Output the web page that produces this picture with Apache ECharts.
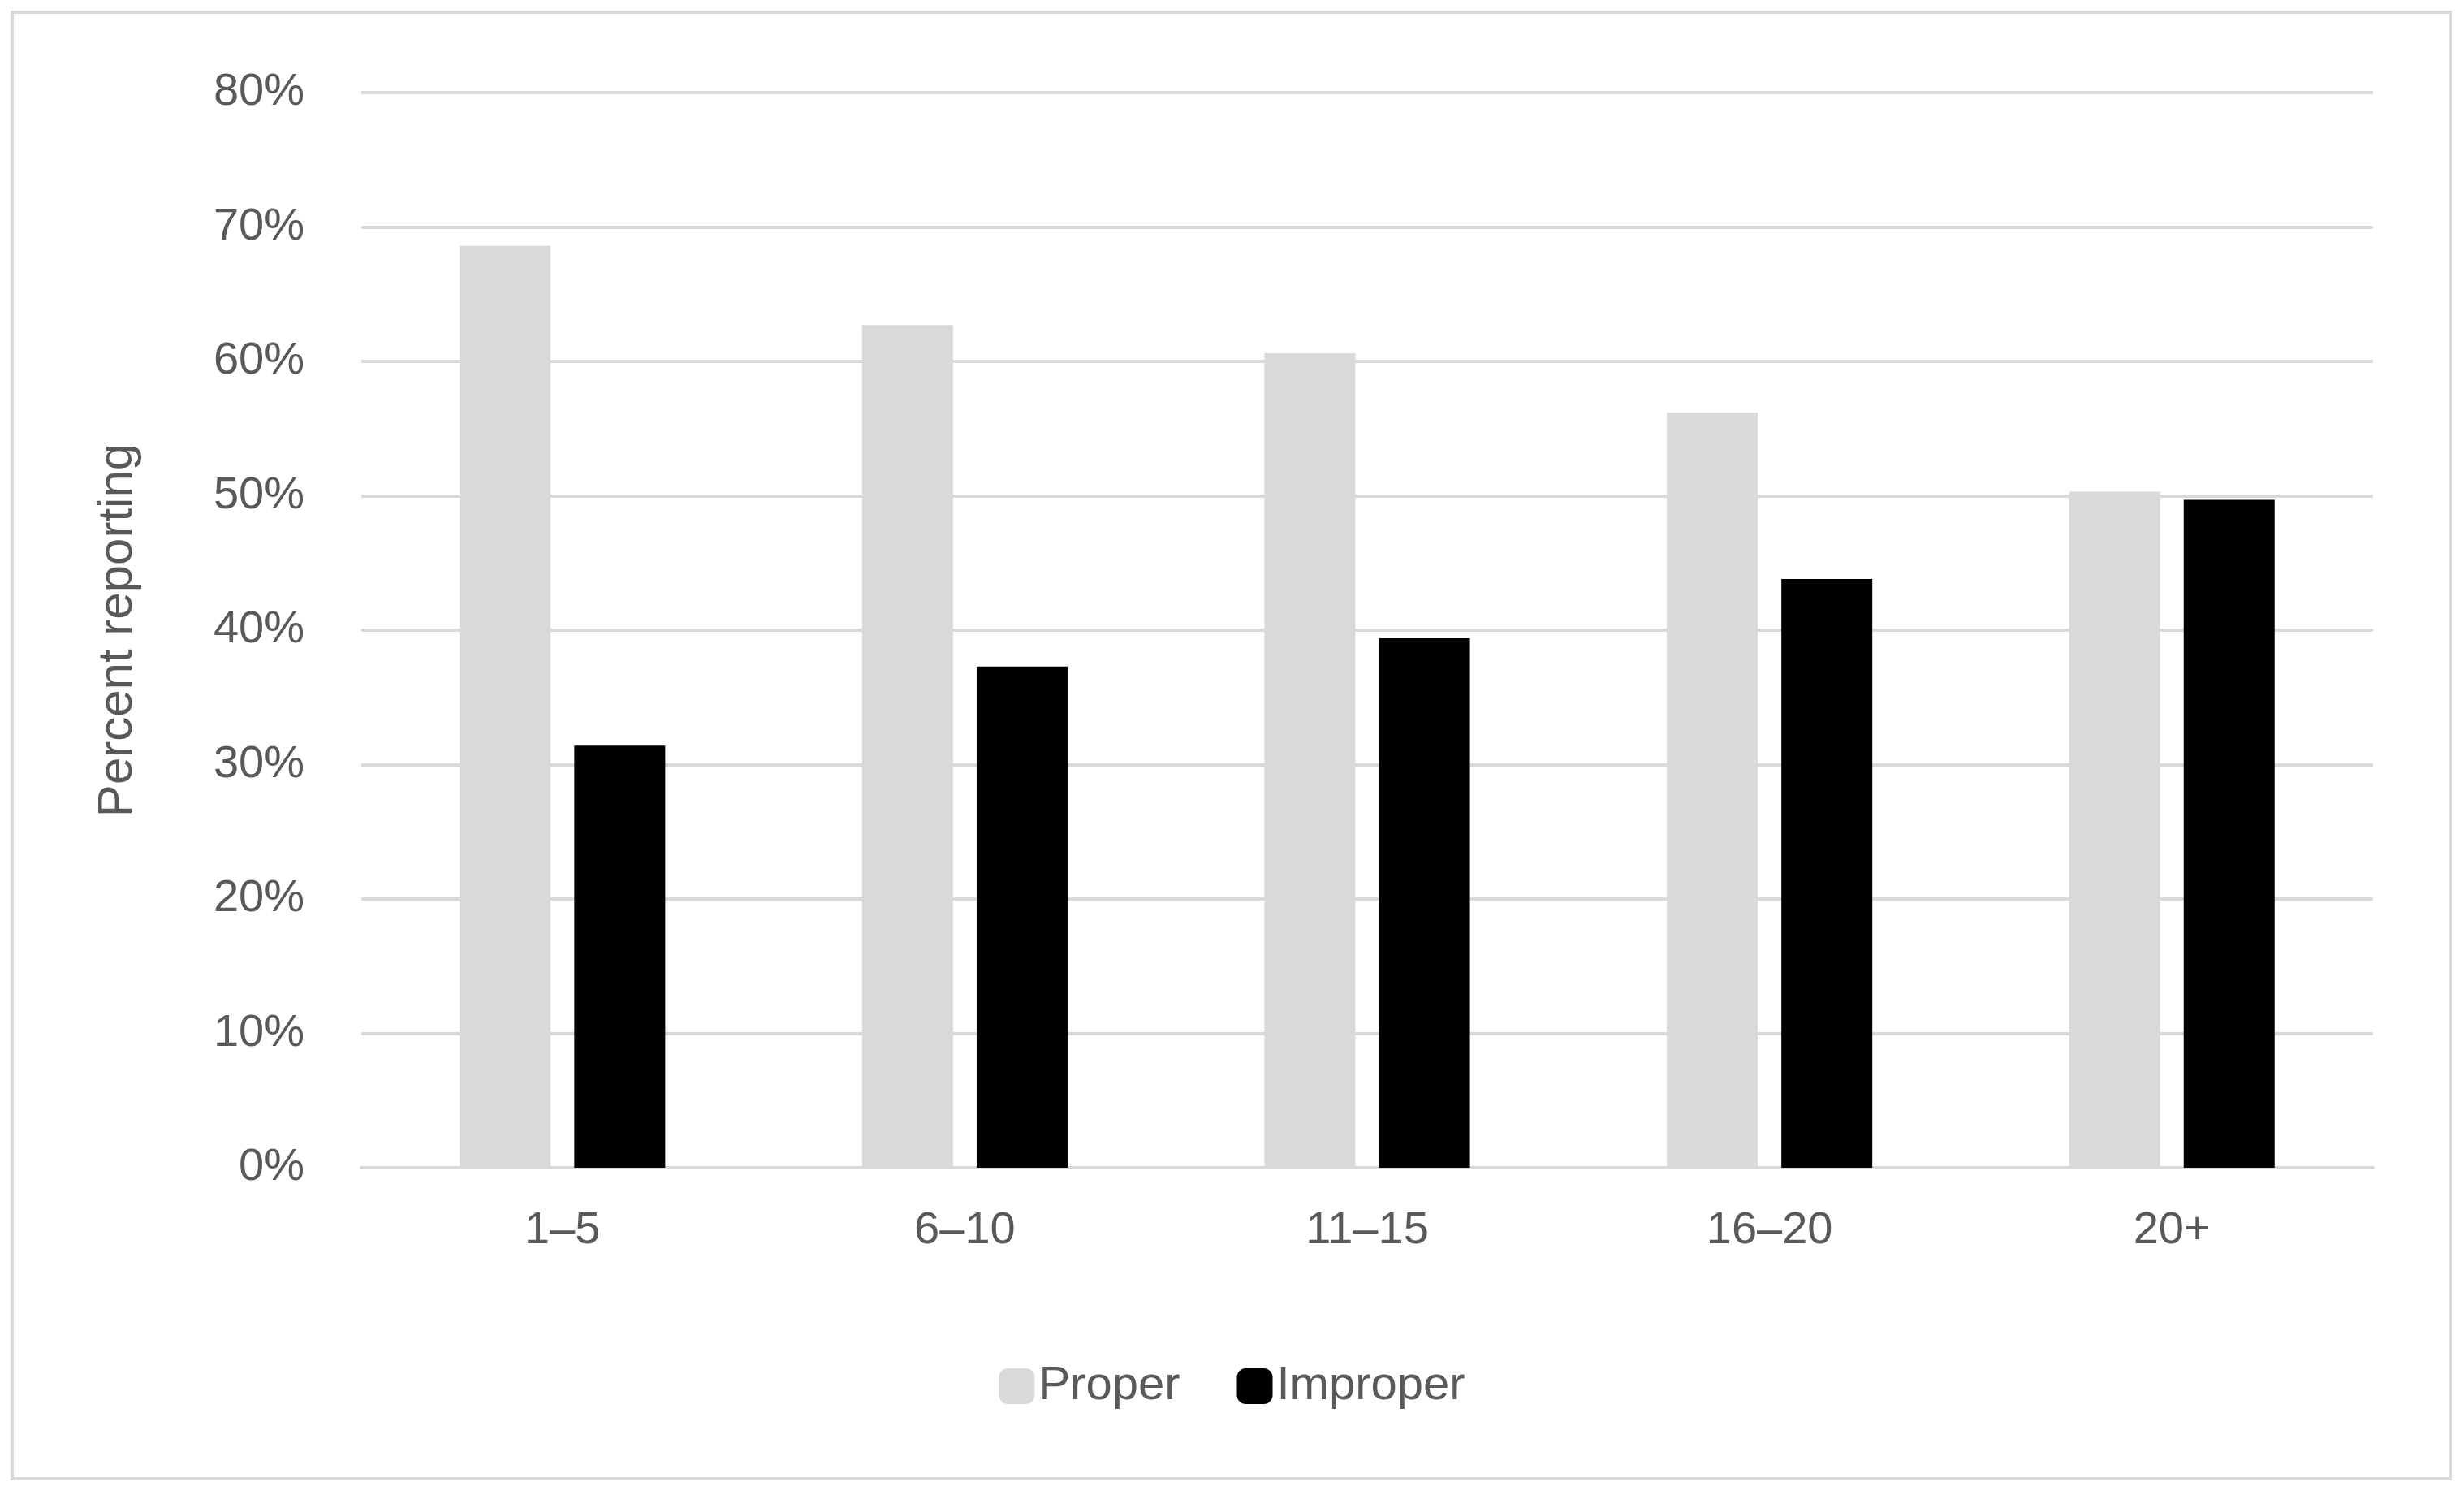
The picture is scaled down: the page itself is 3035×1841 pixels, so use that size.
<!DOCTYPE html>
<html>
<head>
<meta charset="utf-8">
<script src="https://cdn.jsdelivr.net/npm/echarts@6/dist/echarts.min.js"></script>
<style>html,body{margin:0;background:#fff}#chart{width:3035px;height:1841px}</style>
</head>
<body>
<div id="chart"></div>
<script>
var categories = ['1–5', '6–10', '11–15', '16–20', '20+'];
var proper = [68.6, 62.7, 60.6, 56.2, 50.3];
var improper = [31.4, 37.3, 39.4, 43.8, 49.7];

var font = 'Liberation Sans';
var chart = echarts.init(document.getElementById('chart'));
chart.setOption({
    animation: false,
    textStyle: {fontFamily: font},
    graphic: [{
        type: 'rect',
        shape: {x: 15, y: 15, width: 3003, height: 1806},
        style: {fill: 'none', stroke: '#d9d9d9', lineWidth: 4}
    }],
    grid: {left: 445, right: 112, top: 114, bottom: 403},
    legend: {
        bottom: 100,
        itemWidth: 44, itemHeight: 44, itemGap: 70,
        textStyle: {fontSize: 58, color: '#595959', fontFamily: font},
        data: ['Proper', 'Improper']
    },
    xAxis: {
        type: 'category',
        data: categories,
        axisLine: {lineStyle: {color: '#d9d9d9', width: 4}},
        axisTick: {show: false},
        axisLabel: {fontSize: 56, color: '#595959', margin: 50}
    },
    yAxis: {
        type: 'value',
        min: 0, max: 80, interval: 10,
        name: 'Percent reporting',
        nameLocation: 'middle',
        nameGap: 270,
        nameTextStyle: {fontSize: 60, color: '#595959'},
        axisLabel: {fontSize: 56, color: '#595959', margin: 70, formatter: '{value}%'},
        splitLine: {lineStyle: {color: '#d9d9d9', width: 4}}
    },
    series: [{
        name: 'Proper', type: 'bar', data: proper,
        barWidth: '22.6%', barGap: '26%',
        itemStyle: {color: '#d9d9d9'}
    }, {
        name: 'Improper', type: 'bar', data: improper,
        barWidth: '22.6%',
        itemStyle: {color: '#000000'}
    }]
});
</script>
</body>
</html>
